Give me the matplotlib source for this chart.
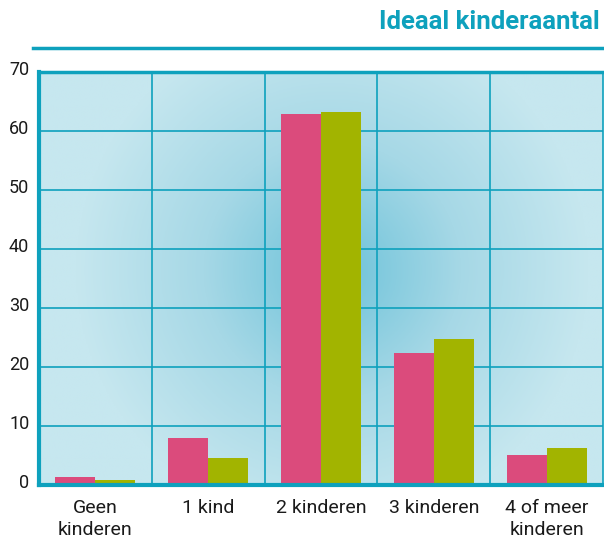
import matplotlib.pyplot as plt
import matplotlib.transforms as mtransforms
import numpy as np
from matplotlib.colors import LinearSegmentedColormap

plt.rcParams['font.family'] = ['Roboto', 'DejaVu Sans']

categories = ["Geen\nkinderen", "1 kind", "2 kinderen", "3 kinderen", "4 of meer\nkinderen"]
pink_values = [1.3, 8.0, 62.9, 22.4, 5.1]
green_values = [0.8, 4.6, 63.2, 24.7, 6.3]
yticks = [0, 10, 20, 30, 40, 50, 60, 70]

teal = "#0ea1bd"
pink = "#db4b7c"
green = "#a2b400"

fig = plt.figure(figsize=(6.04, 5.39), dpi=100)
ax = fig.add_axes([39 / 604, 54 / 539, 564 / 604, 413 / 539])

# radial background gradient
n = len(categories)
gx, gy = np.meshgrid(np.linspace(0, 1, 400), np.linspace(0, 1, 400))
r = np.sqrt(((gx - 0.52) * 1.36) ** 2 + (gy - 0.52) ** 2)
z = np.clip(r / 0.62, 0, 1)
bg_cmap = LinearSegmentedColormap.from_list("bg", ["#6cc2d9", "#a6d8e6", "#c6e7ef"])
ax.imshow(z, cmap=bg_cmap, extent=[-0.5, n - 0.5, 0, 70], origin="lower",
          aspect="auto", zorder=0, interpolation="bilinear")

x = np.arange(n)
w = 0.355
ax.bar(x - w / 2, pink_values, w, color=pink, zorder=3)
ax.bar(x + w / 2, green_values, w, color=green, zorder=3)

ax.set_xlim(-0.5, n - 0.5)
ax.set_ylim(0, 70)

# grid lines
for yv in yticks[1:-1]:
    ax.axhline(yv, color=teal, lw=1.2, zorder=2)
for xv in np.arange(0.5, n - 0.5, 1):
    ax.axvline(xv, color=teal, lw=1.2, zorder=2)

ax.spines['left'].set_linewidth(3)
ax.spines['bottom'].set_linewidth(3)
ax.spines['top'].set_linewidth(2.5)
ax.spines['right'].set_linewidth(1.2)
for s in ax.spines.values():
    s.set_color(teal)
    s.set_zorder(4)

ax.set_yticks(yticks)
ax.set_yticklabels([str(v) for v in yticks], fontsize=13, color="#1a1a1a")
ax.set_xticks(x)
ax.set_xticklabels(categories, fontsize=14, color="#1a1a1a", linespacing=1.3)
ax.tick_params(axis='both', length=0)
ax.tick_params(axis='y', pad=7)
ax.tick_params(axis='x', pad=10)

# y labels sit a little above their grid lines
shift = mtransforms.ScaledTranslation(0, 4 / 100, fig.dpi_scale_trans)
for lab in ax.get_yticklabels():
    lab.set_transform(lab.get_transform() + shift)

# header line and title
fig.add_artist(plt.Line2D([33 / 604, 1.0], [1 - 48 / 539, 1 - 48 / 539],
                          color=teal, lw=2.5))
fig.text(600 / 604, 1 - 22 / 539, "Ideaal kinderaantal", ha="right", va="center",
         fontsize=18.5, fontweight="bold", color=teal)

fig.savefig("out.png", dpi=100)
